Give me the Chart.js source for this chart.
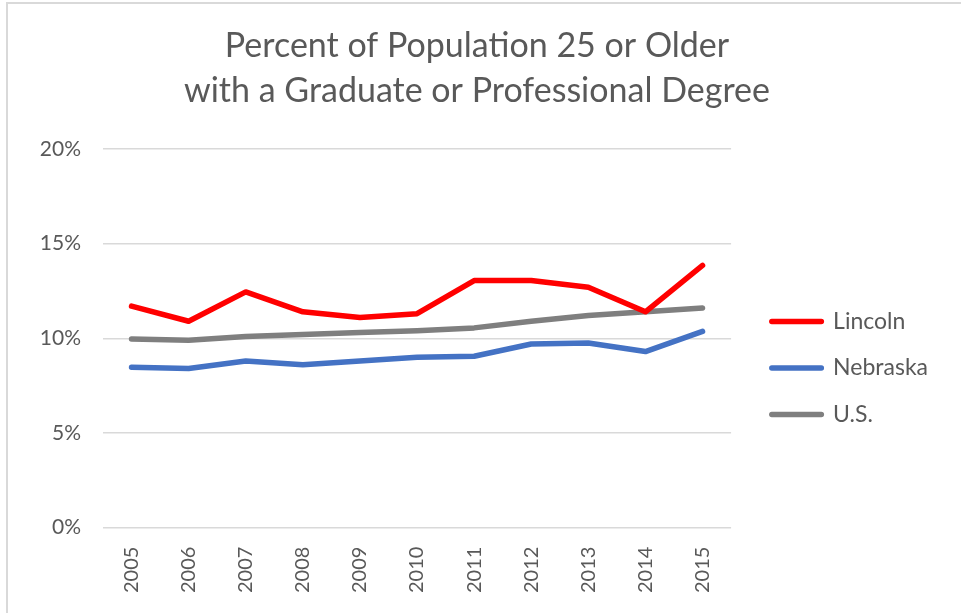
<!DOCTYPE html>
<html>
<head>
<meta charset="utf-8">
<script src="https://cdn.jsdelivr.net/npm/chart.js@4/dist/chart.umd.min.js"></script>
<style>
  html, body { margin: 0; padding: 0; background: #fff; }
  #wrap { position: absolute; left: 0; top: 0; width: 961px; height: 613px; }
  #frame { position: absolute; left: 6px; top: 2px; width: 980px; height: 640px;
           border-top: 2px solid #d9d9d9; border-left: 2px solid #d9d9d9; pointer-events: none; }
</style>
</head>
<body>
<div id="wrap"><canvas id="c" width="961" height="613"></canvas></div>
<div id="frame"></div>
<script>
const years = ['2005','2006','2007','2008','2009','2010','2011','2012','2013','2014','2015'];
const lincoln  = [11.7, 10.9, 12.45, 11.4, 11.1, 11.3, 13.05, 13.05, 12.7, 11.4, 13.85];
const nebraska = [8.47, 8.4, 8.8, 8.6, 8.8, 9.0, 9.05, 9.7, 9.75, 9.3, 10.37];
const us       = [9.96, 9.9, 10.1, 10.2, 10.3, 10.4, 10.55, 10.9, 11.2, 11.4, 11.6];
const yTicks = [0, 5, 10, 15, 20];
const titleLines = ['Percent of Population 25 or Older', 'with a Graduate or Professional Degree'];

const FONT = 'Lato, "Open Sans", sans-serif';
const GREY_TXT = '#595959';
const LINE_W = 5.5;

new Chart(document.getElementById('c'), {
  type: 'line',
  data: {
    labels: years,
    datasets: [
      { label: 'Lincoln', data: lincoln, borderColor: '#ff0000', backgroundColor: '#ff0000' },
      { label: 'Nebraska', data: nebraska, borderColor: '#4472c4', backgroundColor: '#4472c4' },
      { label: 'U.S.', data: us, borderColor: '#7f7f7f', backgroundColor: '#7f7f7f' }
    ]
  },
  options: {
    responsive: false,
    animation: false,
    devicePixelRatio: 1,
    elements: {
      line: { borderWidth: LINE_W, tension: 0, borderCapStyle: 'round', borderJoinStyle: 'round' },
      point: { radius: 0, hoverRadius: 0 }
    },
    layout: { padding: { left: 16, right: 23, top: 20, bottom: 1 } },
    plugins: {
      title: {
        display: true,
        text: titleLines,
        color: GREY_TXT,
        font: { family: FONT, size: 34, weight: 'normal', lineHeight: '45px' },
        padding: { top: 4, bottom: 35 }
      },
      legend: {
        position: 'right',
        align: 'center',
        title: { display: true, text: '', padding: { top: 89.5, bottom: 0 } },
        labels: {
          color: GREY_TXT,
          font: { family: FONT, size: 23 },
          usePointStyle: true,
          pointStyle: 'line',
          pointStyleWidth: 67,
          boxHeight: 6,
          padding: 23.5,
          generateLabels: (chart) => chart.data.datasets.map((ds, i) => ({
            text: ds.label,
            fillStyle: ds.borderColor,
            strokeStyle: ds.borderColor,
            lineWidth: LINE_W,
            lineCap: 'round',
            lineDash: [49.5, 2000],
            lineDashOffset: 2032.25,
            pointStyle: 'line',
            fontColor: GREY_TXT,
            hidden: false,
            datasetIndex: i
          }))
        }
      },
      tooltip: { enabled: false }
    },
    scales: {
      x: {
        offset: true,
        grid: { display: false, drawTicks: false },
        border: { display: false },
        ticks: {
          color: GREY_TXT,
          font: { family: FONT, size: 20 },
          maxRotation: 90, minRotation: 90,
          padding: 19
        }
      },
      y: {
        min: 0, max: 20,
        afterBuildTicks: (s) => { s.ticks = yTicks.map(v => ({ value: v })); },
        afterFit: (s) => { s.width = 87; },
        grid: { color: '#d9d9d9', lineWidth: 1.5, drawTicks: false },
        border: { display: false },
        ticks: {
          color: GREY_TXT,
          font: { family: FONT, size: 21 },
          padding: 22,
          callback: (v) => v + '%'
        }
      }
    }
  }
});
</script>
</body>
</html>
